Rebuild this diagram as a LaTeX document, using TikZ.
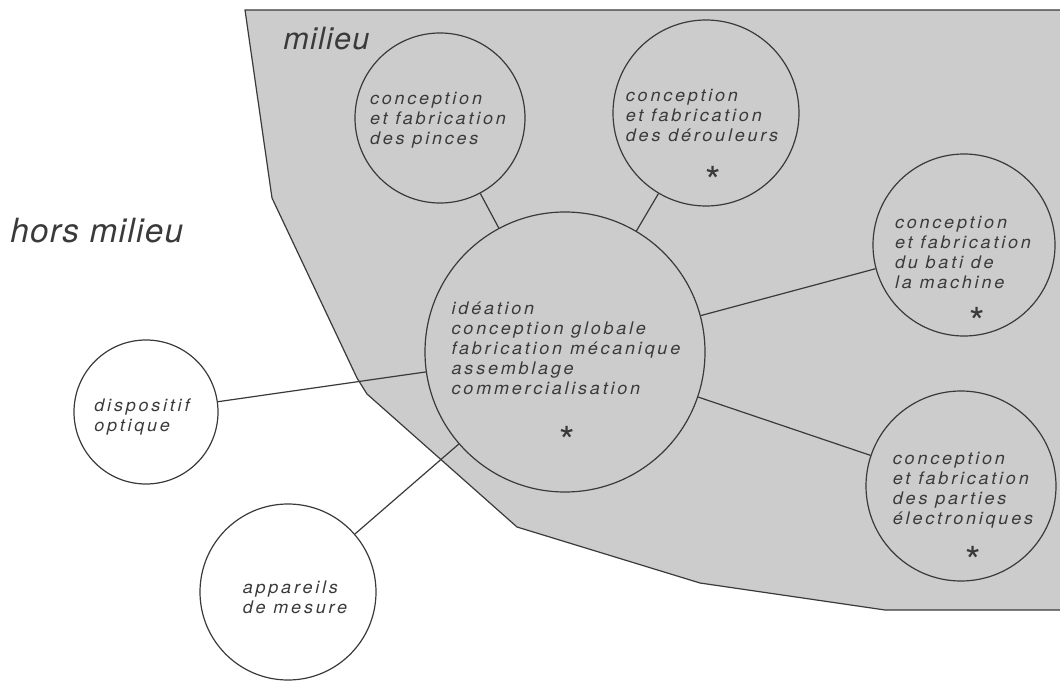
\documentclass[tikz,border=0pt]{standalone}
\usepackage{fontspec}
\setmainfont{TeX Gyre Heros}
\newfontfamily\cfont[LetterSpace=16,FakeStretch=1.04]{TeX Gyre Heros}
\newfontfamily\bfont[LetterSpace=4]{TeX Gyre Heros}
\definecolor{ink}{HTML}{3A3A3A}
\definecolor{zonefill}{HTML}{CCCCCC}
\begin{document}
\begin{tikzpicture}[x=0.75pt,y=-0.75pt,
  bubble/.style={circle,draw=ink,line width=0.9pt,inner sep=0pt,minimum size=#1*1.5pt},
  btext/.style={font=\cfont\itshape\fontsize{13}{15}\selectfont,text=ink,align=left,inner sep=0pt},
  link/.style={draw=ink,line width=0.9pt},
  starmark/.style={font=\fontsize{30}{30}\selectfont,text=ink,inner sep=0pt},
  zone/.style={text=ink,inner sep=0pt,anchor=base west}]
\useasboundingbox (0,0) rectangle (1060,681);
% shaded region
\fill[zonefill] (245,10) -- (1060,10) -- (1060,610) -- (885,610) -- (700,583) -- (517,527)
  -- (367,394) -- (357,378) -- (272,198) -- cycle;
\draw[ink,line width=0.9pt] (1060,10) -- (245,10) -- (272,198) -- (357,378) -- (367,394)
  -- (517,527) -- (700,583) -- (885,610) -- (1060,610);
% zone labels
\node[zone,font=\bfont\itshape\fontsize{23}{23}\selectfont] (milieu) at (283,50) {milieu};
\node[zone,font=\bfont\itshape\fontsize{25}{25}\selectfont] (hors) at (10,243) {hors milieu};
% circles
\node[bubble=140] (cen) at (565,352) {};
\node[bubble=85] (pin) at (440,118) {};
\node[bubble=93] (der) at (706,113) {};
\node[bubble=91] (bat) at (964,245) {};
\node[bubble=95] (ele) at (961,486) {};
\node[bubble=72] (dis) at (146,412) {};
\node[bubble=88] (app) at (288,592) {};
% texts
\node[btext] (cent) at (566,348) {idéation\\conception globale\\fabrication mécanique\\assemblage\\commercialisation};
\node[btext] (pint) at (438,120) {conception\\et fabrication\\des pinces};
\node[btext] (dert) at (702,116) {conception\\et fabrication\\des dérouleurs};
\node[btext] (batt) at (963,253) {conception\\et fabrication\\du bati de\\la machine};
\node[btext] (elet) at (963,490) {conception\\et fabrication\\des parties\\électroniques};
\node[btext] (dist) at (142,417) {dispositif\\optique};
\node[btext] (appt) at (295,597) {appareils\\de mesure};
% stars
\node[starmark] (s1) at (713,181) {*};
\node[starmark] (s2) at (567,441) {*};
\node[starmark] (s3) at (977,322) {*};
\node[starmark] (s4) at (973,561) {*};
% connectors
\draw[link] (pin) -- (cen);
\draw[link] (der) -- (cen);
\draw[link] (cen) -- (bat);
\draw[link] (cen) -- (ele);
\draw[link] (dis) -- (cen);
\draw[link] (app) -- (cen);
\end{tikzpicture}
\end{document}
